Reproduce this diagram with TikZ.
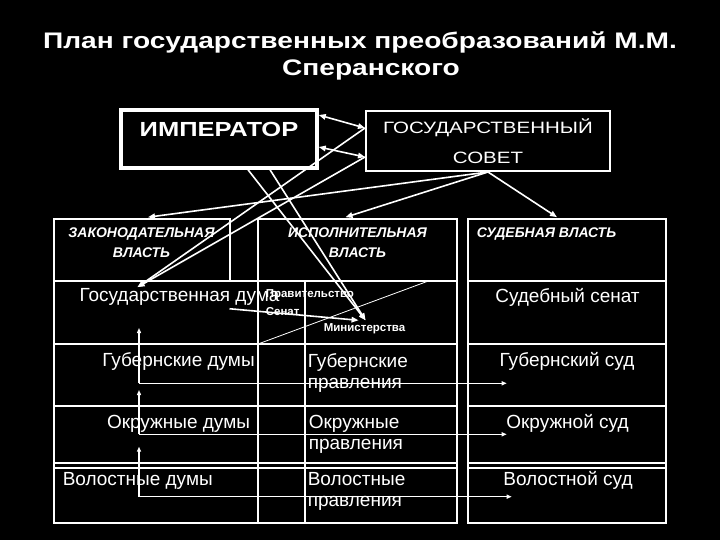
\documentclass[tikz,border=0pt]{standalone}
\usepackage{fontspec}
\setmainfont{Liberation Sans}
\newfontfamily\widefont{Liberation Sans}[FakeStretch=1.25]
\usetikzlibrary{arrows.meta,calc}

\begin{document}
\begin{tikzpicture}[
    x=1pt, y=-1pt,
    white, line width=1.6pt,
    ttltxt/.style={font=\widefont\bfseries\fontsize{22.5}{28}\selectfont, inner sep=0pt},
    headtxt/.style={font=\bfseries\itshape\fontsize{14}{19.5}\selectfont, align=center, inner sep=0pt},
    bigtxt/.style={font=\fontsize{19}{21}\selectfont, inner sep=0pt},
    smalltxt/.style={font=\bfseries\fontsize{11.5}{13}\selectfont, inner sep=0pt},
    cell/.style={draw, inner sep=0pt},
    arr/.style={-{Triangle[length=7pt,width=5.5pt]}},
    arrs/.style={-{Triangle[length=5pt,width=4pt]}, line width=1.4pt},
    arr2/.style={{Triangle[length=7pt,width=5.5pt]}-{Triangle[length=7pt,width=5.5pt]}}
]
\fill[black] (0,0) rectangle (720,540);
\useasboundingbox (0,0) rectangle (720,540);

\node[ttltxt, anchor=base] (ttl1) at (360,48.3) {План государственных преобразований М.М.};
\node[ttltxt, anchor=base] (ttl2) at (371,76) {Сперанского};

\node[cell, line width=3.5pt, minimum width=196, minimum height=58, text depth=20pt,
    font=\widefont\bfseries\fontsize{20.4}{24}\selectfont] (emp) at (219,139) {ИМПЕРАТОР};
\node[cell, line width=2pt, minimum width=244, minimum height=60, align=center,
    font=\widefont\fontsize{16.4}{29.7}\selectfont] (sov) at (488,141) {ГОСУДАРСТВЕННЫЙ\\СОВЕТ};

\node[cell, minimum width=176, minimum height=62] (zak) at (142,250) {};
\node[cell, minimum width=199, minimum height=62] (isp) at (357.5,250) {};
\node[cell, minimum width=198, minimum height=62] (sud) at (567,250) {};
\draw (54,281) rectangle (258,523);
\draw (258,281) rectangle (457,523);
\draw (468,281) rectangle (666,523);
\draw (305,281) -- (305,523);
\foreach \y in {344,406,462.7,468}{
    \draw (54,\y) -- (457,\y);
    \draw (468,\y) -- (666,\y);
}

\node[headtxt, anchor=north] (zaktxt) at (141.5,227) {ЗАКОНОДАТЕЛЬНАЯ\\ВЛАСТЬ};
\node[headtxt, anchor=north] (isptxt) at (357.5,227) {ИСПОЛНИТЕЛЬНАЯ\\ВЛАСТЬ};
\node[headtxt, anchor=base west] (sudtxt) at (476,237) {СУДЕБНАЯ ВЛАСТЬ};

\node[bigtxt, anchor=base] (duma) at (179.5,301) {Государственная дума};
\node[smalltxt, anchor=base west] (prav) at (265,297) {Правительство};
\node[smalltxt, anchor=base west] (senat) at (265,315) {Сенат};
\node[smalltxt, anchor=base west] (minis) at (323,331) {Министерства};
\node[bigtxt, anchor=base] (sudsen) at (567.5,302) {Судебный сенат};

\node[bigtxt, anchor=base] (gubd) at (178.5,366.7) {Губернские думы};
\node[bigtxt, anchor=base] (okrd) at (178.5,428) {Окружные думы};
\node[bigtxt, anchor=base west] (vold) at (62,485) {Волостные думы};
\node[bigtxt, align=left, anchor=north west] (gubp) at (307,352.3) {Губернские\\правления};
\node[bigtxt, align=left, anchor=north west] (okrp) at (308,414) {Окружные\\правления};
\node[bigtxt, align=left, anchor=north west] (volp) at (307,471.3) {Волостные\\правления};
\node[bigtxt, anchor=base] (gubs) at (567,366.7) {Губернский суд};
\node[bigtxt, anchor=base] (okrs) at (567.5,428) {Окружной суд};
\node[bigtxt, anchor=base] (vols) at (568,485) {Волостной суд};

\coordinate (e1) at ($(emp.east)+(0,-24)$);
\coordinate (e2) at ($(emp.east)+(0,8)$);
\coordinate (s1) at ($(sov.west)+(0,-13)$);
\coordinate (s2) at ($(sov.west)+(0,16)$);
\coordinate (dtip) at ($(duma.north)+(-42,0)$);
\coordinate (mtip) at ($(minis.north)+(1,-2)$);
\draw[arr2] (e1) -- (s1);
\draw[arr2] (s2) -- (e2);
\draw[arr] (s1) -- (dtip);
\draw[arr] (s2) -- (dtip);
\draw[arr] (sov.south) -- ($(zak.north)+(6,-1)$);
\draw[arr] (sov.south) -- ($(isp.north)+(-12,-1)$);
\draw[arr] (sov.south) -- ($(sud.north)+(-10,-1)$);
\draw[arr] ($(emp.south)+(29,0)$) -- (mtip);
\draw[arr] ($(emp.south)+(51,0)$) -- (mtip);
\draw[arr] ($(duma.south)+(50,3)$) -- ($(mtip)+(-7,0)$);
\coordinate (ln1) at (258,344);
\coordinate (ln2) at (427,281.5);
\draw[line width=0.8pt] (ln1) -- (ln2);

\coordinate (gubc) at (139,383.3);
\coordinate (okrc) at (139,434.3);
\coordinate (volc) at (139,496.7);
\coordinate (dumab) at (139,328);
\coordinate (gubb) at (139,390);
\coordinate (okrb) at (139,446.7);
\coordinate (gubt) at (506.7,383.3);
\coordinate (okrt) at (506.7,434.3);
\coordinate (volt) at (511.7,496.7);
\draw[arrs] (gubc) -- (dumab);
\draw[arrs] (okrc) -- (gubb);
\draw[arrs] (volc) -- (okrb);
\draw[arrs] (gubc) -- (gubt);
\draw[arrs] (okrc) -- (okrt);
\draw[arrs] (volc) -- (volt);
\end{tikzpicture}
\end{document}
